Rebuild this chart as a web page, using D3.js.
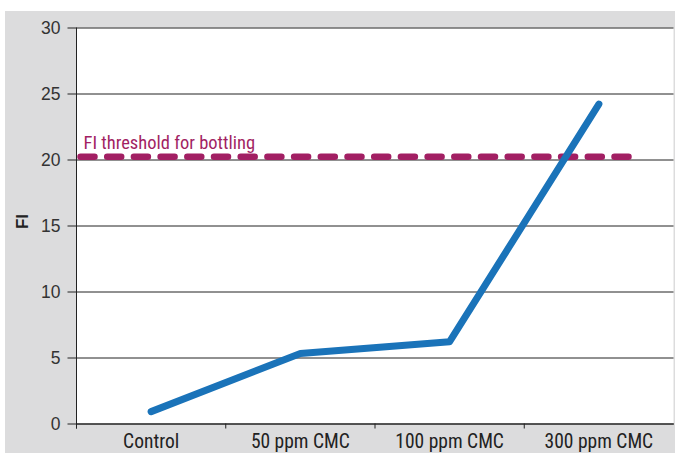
<!DOCTYPE html>
<html>
<head>
<meta charset="utf-8">
<script src="https://cdn.jsdelivr.net/npm/d3@7"></script>
<style>
  html, body { margin: 0; padding: 0; background: #fff; }
  svg { display: block; }
</style>
</head>
<body>
<svg id="chart" width="675" height="453"></svg>
<script>
// Fluorescence index by CMC dose
const categories = ["Control", "50 ppm CMC", "100 ppm CMC", "300 ppm CMC"];
const fiValues = [0.9, 5.3, 6.2, 24.2];
const threshold = 20.2;
const thresholdLabel = "FI threshold for bottling";
const yTicks = [0, 5, 10, 15, 20, 25, 30];

const FONT = "'Roboto Condensed', 'Liberation Sans Narrow', sans-serif";
const NUM_FONT = "'Liberation Sans', Arial, sans-serif";
const svg = d3.select("#chart");
const W = 675, H = 453;
const m = { left: 76.5, right: 1.5, top: 27.5, bottom: 29.5 };

// grey panel
svg.append("rect").attr("x", 5).attr("y", 11).attr("width", W - 5).attr("height", H - 11).attr("fill", "#dcdcdd");
// white plot area
svg.append("rect").attr("x", m.left).attr("y", m.top)
  .attr("width", W - m.right - m.left).attr("height", H - m.bottom - m.top).attr("fill", "#fff");

const x = d3.scaleBand().domain(categories).range([m.left, W - m.right]).padding(0);
const y = d3.scaleLinear().domain([0, 30]).range([H - m.bottom, m.top]);

// y axis with gridlines
const yAxis = svg.append("g").attr("transform", `translate(${m.left},0)`)
  .call(d3.axisLeft(y).tickValues(yTicks).tickSize(9).tickPadding(6));
yAxis.attr("font-family", null).attr("font-size", null);
yAxis.select(".domain").remove();
yAxis.selectAll(".tick line").attr("stroke", "#222").attr("x1", -9).attr("x2", W - m.right - m.left);
yAxis.selectAll(".tick text").attr("fill", "#333").attr("x", -16).attr("dy", "0.36em")
  .style("font-family", NUM_FONT).style("font-size", "17.5px");

// vertical axis line
svg.append("line").attr("x1", m.left).attr("x2", m.left).attr("y1", m.top).attr("y2", H - m.bottom + 5)
  .attr("stroke", "#222");

// x axis
const xAxis = svg.append("g").attr("transform", `translate(0,${H - m.bottom})`)
  .call(d3.axisBottom(x).tickSize(0).tickPadding(0));
xAxis.attr("font-family", null).attr("font-size", null);
xAxis.select(".domain").attr("stroke", "#222");
xAxis.selectAll(".tick text").attr("fill", "#222").attr("y", 24.5).attr("dy", null)
  .style("font-family", FONT).style("font-size", "19.5px");
// boundary ticks between categories
svg.append("g").selectAll("line")
  .data(categories)
  .join("line")
  .attr("x1", d => x(d)).attr("x2", d => x(d))
  .attr("y1", H - m.bottom).attr("y2", H - m.bottom + 5)
  .attr("stroke", "#222");

// threshold dashed line
const tx0 = m.left + 4;
const tx1 = x(categories[categories.length - 1]) + x.bandwidth() * 0.7;
svg.append("line")
  .attr("x1", tx0).attr("x2", tx1)
  .attr("y1", y(threshold)).attr("y2", y(threshold))
  .attr("stroke", "#a21f63").attr("stroke-width", 6.5)
  .attr("stroke-linecap", "round").attr("stroke-dasharray", "14 12.7");

svg.append("text").attr("x", m.left + 7).attr("y", y(threshold) - 8)
  .attr("fill", "#a21f63").style("font-family", FONT).style("font-size", "18.5px").text(thresholdLabel);

// FI line
const line = d3.line().x((d, i) => x(categories[i]) + x.bandwidth() / 2).y(d => y(d));
svg.append("path").datum(fiValues).attr("d", line)
  .attr("fill", "none").attr("stroke", "#1a73b9").attr("stroke-width", 7)
  .attr("stroke-linecap", "round").attr("stroke-linejoin", "round");

// y axis title
svg.append("text").attr("transform", `translate(28,${y(15.3)}) rotate(-90)`)
  .attr("text-anchor", "middle").attr("fill", "#222")
  .style("font-size", "17px").style("font-weight", "bold")
  .style("font-family", NUM_FONT).text("FI");
</script>
</body>
</html>
